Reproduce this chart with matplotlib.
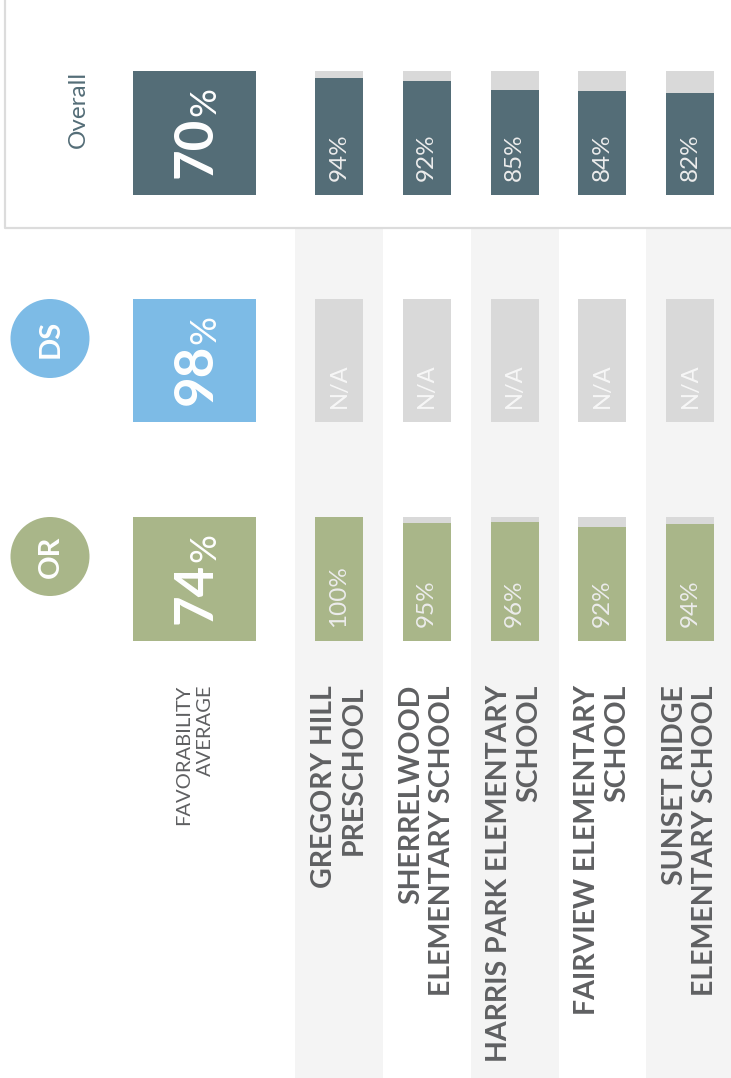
import matplotlib.pyplot as plt
from matplotlib.patches import Circle, Rectangle

plt.rcParams['font.family'] = ['Lato', 'DejaVu Sans']

# data
schools = ['GREGORY HILL\nPRESCHOOL', 'SHERRELWOOD\nELEMENTARY SCHOOL',
           'HARRIS PARK ELEMENTARY\nSCHOOL', 'FAIRVIEW ELEMENTARY\nSCHOOL',
           'SUNSET RIDGE\nELEMENTARY SCHOOL']
overall_avg = 70
overall_vals = [94, 92, 85, 84, 82]
ds_avg = 98
ds_vals = [None, None, None, None, None]
or_avg = 74
or_vals = [100, 95, 96, 92, 94]

slate = '#546d77'
blue = '#7dbbe6'
green = '#a9b689'
track = '#d9d9d9'
stripe = '#f4f4f4'
label_c = '#5f6062'

W, H = 731, 1078
fig = plt.figure(figsize=(W / 100, H / 100), dpi=100)
bg = fig.add_axes([0, 0, 1, 1])
bg.set_xlim(0, W)
bg.set_ylim(H, 0)
bg.axis('off')

col_x = [339 + i * 87.75 for i in range(len(schools))]
big_x, big_w, bar_w = 194.5, 123, 48

# column stripes
for i, cx in enumerate(col_x):
    if i % 2 == 0:
        bg.add_patch(Rectangle((cx - 44, 229), 88, H - 229, color=stripe, lw=0))

# box around overall row
bg.plot([5, 5, W], [0, 228, 228], color='#dcdcdc', lw=1.6)

rows = [
    # name, colour, average, values, top px, bottom px, badge
    ('Overall', slate, overall_avg, overall_vals, 71, 195, None),
    ('DS', blue, ds_avg, ds_vals, 299, 422, 'DS'),
    ('OR', green, or_avg, or_vals, 517, 641, 'OR'),
]

for name, color, avg, vals, top, bot, badge in rows:
    ax = fig.add_axes([0, 1 - bot / H, 1, (bot - top) / H])
    ax.set_xlim(0, W)
    ax.set_ylim(0, 100)
    ax.axis('off')

    # average tile
    ax.bar(big_x, 100, width=big_w, color=color, lw=0)

    # school bars
    ax.bar(col_x, [100] * len(vals), width=bar_w, color=track, lw=0)
    for x, v in zip(col_x, vals):
        if v is None:
            ax.annotate('N/A', xy=(x, 0), xytext=(0, 10), textcoords='offset points',
                        rotation=90, ha='center', va='bottom', fontsize=17,
                        color='#f7f7f7')
        else:
            ax.bar(x, v, width=bar_w, color=color, lw=0)
            ax.annotate(f'{v}%', xy=(x, 0), xytext=(0, 10), textcoords='offset points',
                        rotation=90, ha='center', va='bottom', fontsize=17.5,
                        color='#ececec')

    if badge is None:
        bg.text(78, top, name, rotation=90, ha='center', va='top', fontsize=17.5,
                color=slate)
    else:
        bg.add_patch(Circle((50, top + 39.5), 39.5, color=color, lw=0))
        bg.text(51, top + 39.5, badge, rotation=90, ha='center', va='center',
                fontsize=21, weight='bold', color='white')

# overlay for the big average numbers and labels
fg = fig.add_axes([0, 0, 1, 1])
fg.set_xlim(0, W)
fg.set_ylim(H, 0)
fg.axis('off')
for name, color, avg, vals, top, bot, badge in rows:
    cy = (top + bot) / 2 + 14
    t = fg.text(big_x + 2, cy, str(avg), rotation=90, ha='center', va='center',
                fontsize=38, weight='bold', color='white')
    fg.annotate('%', xy=(1, 1), xycoords=t, xytext=(0, 0), textcoords='offset points',
                rotation=90, ha='right', va='bottom', fontsize=26, color='white')

fg.text(big_x, 685, 'FAVORABILITY\nAVERAGE', rotation=90, ha='center', va='top',
        multialignment='right', fontsize=14.5, color=label_c, linespacing=1.3)
for cx, s in zip(col_x, schools):
    fg.text(cx, 685, s, rotation=90, ha='center', va='top', multialignment='right',
            fontsize=20.5, weight='bold', color=label_c, linespacing=1.2)

fig.savefig('out.png', dpi=100)
